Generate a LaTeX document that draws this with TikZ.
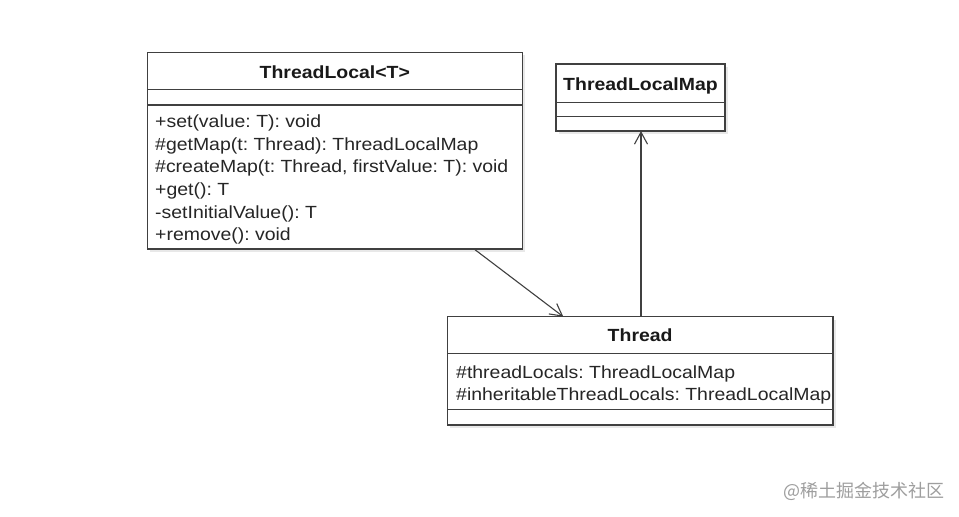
\documentclass[tikz,border=0pt]{standalone}
\usepackage{fontspec}
\setmainfont{Liberation Sans}[FakeStretch=1.105]
\newfontfamily\cjk{Noto Sans CJK SC}
\usetikzlibrary{arrows.meta}
\frenchspacing

\tikzset{
  umlbox/.style={draw=black!75, line width=1.3pt, fill=white, inner sep=0pt},
  umlshadow/.style={fill=black!9},
  divider/.style={draw=black!75, line width=1.3pt},
  member/.style={anchor=base west, inner sep=0pt, text=black!85,
    font=\fontsize{17.6}{21}\selectfont},
  classname/.style={anchor=base, inner sep=0pt, text=black!90,
    font=\fontsize{17.6}{21}\selectfont\bfseries},
  assoc/.style={draw=black!75, line width=1.1pt,
    -{Straight Barb[length=12pt,width=13pt]}}
}

\begin{document}
\begin{tikzpicture}[x=1pt,y=-1pt]
\useasboundingbox[fill=white] (0,0) rectangle (959,517);

% ThreadLocal<T>
\fill[umlshadow] (150.3,55.3) rectangle (525.3,252);
\node[umlbox, minimum width=375pt, minimum height=196.7pt] (tl) at (334.8,150.65) {};
\draw[divider] (147.3,89.3) -- (522.3,89.3);
\draw[divider] (147.3,105) -- (522.3,105);
\node[classname] (tlname) at (334.8,78.3) {ThreadLocal<T>};
\foreach \m [count=\i] in {{+set(value: T): void},
                           {\#getMap(t: Thread): ThreadLocalMap},
                           {\#createMap(t: Thread, firstValue: T): void},
                           {+get(): T},
                           {-setInitialValue(): T},
                           {+remove(): void}}
    \node[member] (tlm\i) at (155,{127.7+22.6*(\i-1)}) {\m};

% ThreadLocalMap
\fill[umlshadow] (559,67) rectangle (728,134);
\node[umlbox, minimum width=169pt, minimum height=67pt] (map) at (640.5,97.5) {};
\draw[divider] (556,102.7) -- (725,102.7);
\draw[divider] (556,116.7) -- (725,116.7);
\node[classname] (mapname) at (640.5,90) {ThreadLocalMap};

% Thread
\fill[umlshadow] (450.3,319.7) rectangle (836,428);
\node[umlbox, minimum width=385.7pt, minimum height=108.3pt] (thr) at (640.15,370.85) {};
\draw[divider] (447.3,353.3) -- (833,353.3);
\draw[divider] (447.3,409.3) -- (833,409.3);
\node[classname] (thrname) at (640.15,341.7) {Thread};
\node[member] (thra1) at (456,378.3) {\#threadLocals: ThreadLocalMap};
\node[member] (thra2) at (456,400.7) {\#inheritableThreadLocals: ThreadLocalMap};

% associations
\coordinate (tlout) at (475,249.7);
\coordinate (thrin) at (563.3,316.7);
\coordinate (throut) at (641,316.7);
\coordinate (mapin) at (641,131);
\draw[assoc] (tlout) -- (thrin);
\draw[assoc] (throut) -- (mapin);

% watermark
\node[anchor=west, inner sep=0pt, text=black!38,
      font=\cjk\fontsize{18}{20}\selectfont] (mark) at (783,491) {@稀土掘金技术社区};
\end{tikzpicture}
\end{document}
